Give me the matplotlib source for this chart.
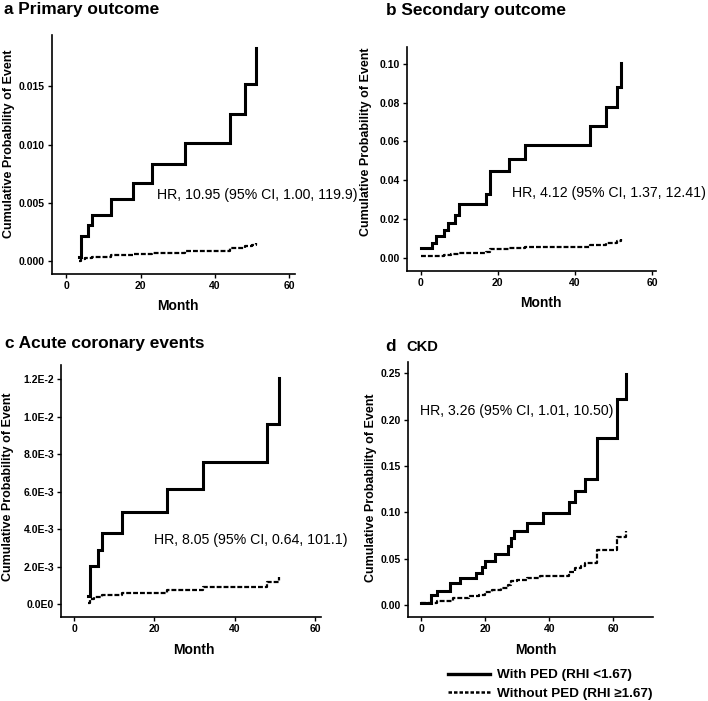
import numpy as np
import matplotlib
matplotlib.use("Agg")
import matplotlib.pyplot as plt
from matplotlib.lines import Line2D

plt.rcParams['font.family'] = ['Liberation Sans', 'DejaVu Sans']

# ---- panel a: primary outcome
a_ped_t = [3.5, 4, 6, 7, 12, 18, 23, 32, 44, 48, 51]
a_ped_p = [0.0004, 0.0022, 0.0031, 0.0040, 0.0053, 0.0067, 0.0083, 0.0101, 0.0126, 0.0152, 0.0183]
a_no_t = [3.5, 4, 5, 7, 12, 18, 23, 32, 44, 48, 50, 51]
a_no_p = [0.00002, 0.0002, 0.00026, 0.0004, 0.0005, 0.0006, 0.00072, 0.0009, 0.0011, 0.0013, 0.0014, 0.0016]

# ---- panel b: secondary outcome
b_ped_t = [0, 3, 4, 6, 7, 9, 10, 17, 18, 23, 27, 44, 48, 51, 52]
b_ped_p = [0.0053, 0.0079, 0.0113, 0.0146, 0.0182, 0.0223, 0.0276, 0.0331, 0.0449, 0.0511,
           0.0583, 0.0677, 0.0777, 0.0880, 0.1003]
b_no_t = [0, 3, 6, 8, 10, 17, 18, 23, 27, 44, 48, 51, 52]
b_no_p = [0.0008, 0.0010, 0.0014, 0.0018, 0.0024, 0.0030, 0.0045, 0.0051, 0.0058, 0.0065,
          0.0075, 0.0085, 0.0098]

# ---- panel c: acute coronary events
c_ped_t = [3.5, 4, 6, 7, 12, 23, 32, 48, 51]
c_ped_p = [0.00045, 0.00203, 0.00287, 0.0038, 0.00493, 0.00616, 0.00757, 0.0096, 0.01206]
c_no_t = [3.5, 4, 5, 7, 12, 23, 32, 48, 51]
c_no_p = [0.00007, 0.00028, 0.0004, 0.00048, 0.0006, 0.00077, 0.00094, 0.0012, 0.00144]

# ---- panel d: CKD
d_ped_t = [0, 3, 5, 9, 12, 17, 19, 20, 23, 27, 28, 29, 33, 38, 46, 48, 51, 55, 61, 64]
d_ped_p = [0.003, 0.011, 0.015, 0.024, 0.029, 0.035, 0.041, 0.048, 0.055, 0.064, 0.072, 0.080,
           0.089, 0.099, 0.111, 0.123, 0.136, 0.180, 0.222, 0.249]
d_no_t = [0, 2, 5, 10, 15, 18, 20, 22, 25, 27, 28, 30, 33, 37, 40, 46, 48, 50, 51, 55, 61, 64]
d_no_p = [0.002, 0.003, 0.005, 0.008, 0.010, 0.011, 0.014, 0.017, 0.019, 0.022, 0.026, 0.027,
          0.029, 0.031, 0.032, 0.036, 0.040, 0.042, 0.045, 0.059, 0.073, 0.080]

letters = ['a', 'b', 'c', 'd']
titles = ['Primary outcome', 'Secondary outcome', 'Acute coronary events', 'CKD']
hr_texts = ['HR, 10.95 (95% CI, 1.00, 119.9)', 'HR, 4.12 (95% CI, 1.37, 12.41)',
            'HR, 8.05 (95% CI, 0.64, 101.1)', 'HR, 3.26 (95% CI, 1.01, 10.50)']
a_yticks = [0.000, 0.005, 0.010, 0.015]
b_yticks = [0.00, 0.02, 0.04, 0.06, 0.08, 0.10]
c_yticks = [0.0, 0.002, 0.004, 0.006, 0.008, 0.010, 0.012]
c_yticklabels = ['0.0E0', '2.0E-3', '4.0E-3', '6.0E-3', '8.0E-3', '1.0E-2', '1.2E-2']
d_yticks = [0.00, 0.05, 0.10, 0.15, 0.20, 0.25]
xticks = [0, 20, 40, 60]
legend_labels = ['With PED (RHI <1.67)', 'Without PED (RHI \u22651.67)']

W, H = 708, 701
fig = plt.figure(figsize=(W / 100, H / 100), dpi=100)

# axes boxes in pixels: left, top, right, bottom
boxes = [(52, 35, 295, 274), (407, 47, 656, 271), (61, 365, 321, 617), (408, 362, 653, 617)]
xlims = [(-3.8, 61.5), (-3.5, 61.0), (-3.3, 61.5), (-4.2, 72.4)]
ylims = [(-0.0011, 0.0194), (-0.0067, 0.1086), (-0.00068, 0.01277), (-0.0126, 0.2619)]
hr_pos = [(0.432, 0.331), (0.421, 0.348), (0.356, 0.305), (0.051, 0.806)]
title_pos = [(4, 14), (386, 15), (5, 348), (385, 351)]
xlab_pos = [(0.519, -0.134), (0.537, -0.144), (0.512, -0.131), (0.521, -0.129)]
ylab_pos = [(-0.178, 0.544), (-0.163, 0.577), (-0.204, 0.517), (-0.151, 0.508)]

series = [(a_ped_t, a_ped_p, a_no_t, a_no_p), (b_ped_t, b_ped_p, b_no_t, b_no_p),
          (c_ped_t, c_ped_p, c_no_t, c_no_p), (d_ped_t, d_ped_p, d_no_t, d_no_p)]
yticks_all = [a_yticks, b_yticks, c_yticks, d_yticks]
yfmt = ['{:.3f}', '{:.2f}', None, '{:.2f}']

dash = (0, (2.2, 0.9))

for i in range(4):
    l, t, r, b = boxes[i]
    ax = fig.add_axes([l / W, 1 - b / H, (r - l) / W, (b - t) / H])
    pt, pp, nt, npp = series[i]
    ax.step(pt, pp, where='post', color='black', lw=2.2, solid_joinstyle='miter')
    ax.step(nt, npp, where='post', color='black', lw=1.6, linestyle=dash)
    ax.set_xlim(*xlims[i])
    ax.set_ylim(*ylims[i])
    ax.set_xticks(xticks)
    ax.set_yticks(yticks_all[i])
    if yfmt[i] is None:
        ax.set_yticklabels(c_yticklabels)
    else:
        ax.set_yticklabels([yfmt[i].format(v) for v in yticks_all[i]])
    for s in ['top', 'right']:
        ax.spines[s].set_visible(False)
    for s in ['left', 'bottom']:
        ax.spines[s].set_linewidth(1.2)
    ax.tick_params(direction='out', length=3, width=1, labelsize=7.5, pad=2)
    for lab in ax.get_xticklabels() + ax.get_yticklabels():
        lab.set_fontweight('bold')
    ax.set_xlabel('Month', fontsize=10, fontweight='bold')
    ax.xaxis.label.set_va('center')
    ax.xaxis.set_label_coords(*xlab_pos[i])
    ax.set_ylabel('Cumulative Probability of Event', fontsize=9, fontweight='bold')
    ax.yaxis.label.set_va('center')
    ax.yaxis.set_label_coords(*ylab_pos[i])
    ax.text(hr_pos[i][0], hr_pos[i][1], hr_texts[i], transform=ax.transAxes,
            fontsize=10.2, va='center', ha='left')
    tx, ty = title_pos[i]
    if i < 3:
        fig.text(tx / W, 1 - ty / H, letters[i] + ' ' + titles[i], fontsize=12.4,
                 fontweight='bold', va='baseline', ha='left')
    else:
        fig.text(tx / W, 1 - ty / H, letters[i], fontsize=12.4,
                 fontweight='bold', va='baseline', ha='left')
        fig.text((tx + 21) / W, 1 - ty / H, titles[i], fontsize=10.6,
                 fontweight='bold', va='baseline', ha='left')

handles = [Line2D([], [], color='black', lw=2.4),
           Line2D([], [], color='black', lw=1.8, linestyle=(0, (1.4, 0.8)))]
fig.legend(handles, legend_labels, loc='upper left', bbox_to_anchor=(448 / W, 1 - 669 / H),
           frameon=False, borderpad=0, borderaxespad=0, handlelength=3.1, handletextpad=0.5,
           labelspacing=0.45, prop={'weight': 'bold', 'size': 9.7})

fig.savefig('out.png', dpi=100)
